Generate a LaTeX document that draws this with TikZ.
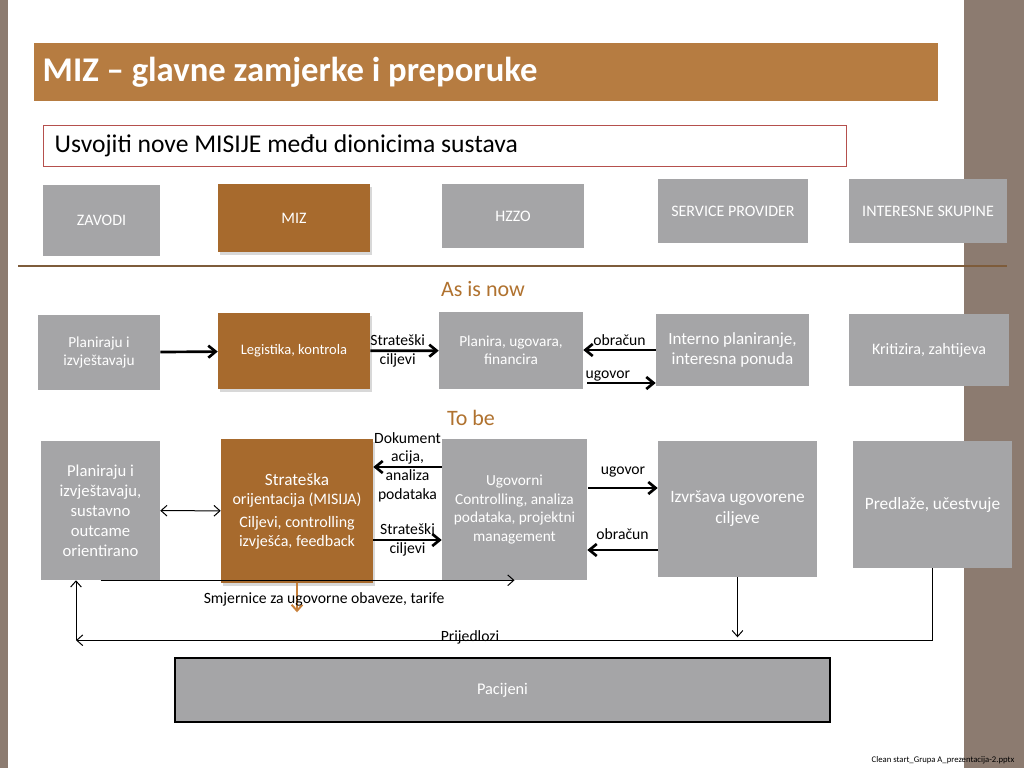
\documentclass[tikz,border=0pt]{standalone}
\usepackage{fontspec}
\setmainfont{Carlito}
\usetikzlibrary{positioning,calc,arrows.meta,shadows}
\definecolor{strip}{HTML}{8C7B70}
\definecolor{titlebar}{HTML}{B67C41}
\definecolor{boxgray}{HTML}{A5A5A7}
\definecolor{mizbrown}{HTML}{A76A2D}
\definecolor{headbrown}{HTML}{B0722F}
\definecolor{sepbrown}{HTML}{7E5C3B}
\definecolor{subred}{HTML}{B5504D}
\definecolor{arrbrown}{HTML}{C8803A}
\begin{document}
\begin{tikzpicture}[x=0.75pt,y=-0.75pt,
  >={Straight Barb[length=4.5pt,width=8pt]},
  box/.style 2 args={fill=boxgray,text=white,align=center,inner sep=2pt,
    minimum width=#1*0.75pt,minimum height=#2*0.75pt,font=\fontsize{11.5}{13.5}\selectfont},
  mizbox/.style 2 args={box={#1}{#2},fill=mizbrown,
    drop shadow={opacity=0.3,shadow xshift=1.5pt,shadow yshift=-2pt}},
  lbl/.style={font=\fontsize{11.75}{14}\selectfont,align=center,text=black,inner sep=1pt},
  head/.style={font=\fontsize{16.5}{19}\selectfont,text=headbrown},
  thk/.style={line width=2pt,-{Straight Barb[length=5.5pt,width=9pt]}},
  thn/.style={line width=0.75pt,->}]
\useasboundingbox (0,0) rectangle (1024,768);
\fill[white] (0,0) rectangle (1024,768);
\fill[strip] (0,0) rectangle (8,768);
\fill[strip] (964,0) rectangle (1024,768);

% title and mission
\fill[titlebar] (34,43) rectangle (938,101);
\node[anchor=west,text=white,font=\fontsize{26}{30}\bfseries] (title) at (38,72) {MIZ -- glavne zamjerke i preporuke};
\draw[subred,fill=white] (43,125) rectangle (846,166);
\node[anchor=west,font=\fontsize{19.2}{22}\selectfont] (mission) at (50,146) {Usvojiti nove MISIJE među dionicima sustava};

% actors
\node[box={117}{71},font=\fontsize{12}{14}\selectfont] (zavodi) at (101.5,220.5) {ZAVODI};
\node[mizbox={152}{68},font=\fontsize{12}{14}\selectfont] (miz) at (294,218) {MIZ};
\node[box={142}{64},font=\fontsize{12}{14}\selectfont] (hzzo) at (513,216) {HZZO};
\node[box={150}{64},font=\fontsize{12}{14}\selectfont] (provider) at (733,211) {SERVICE PROVIDER};
\node[box={158}{64},font=\fontsize{12}{14}\selectfont] (skupine) at (928,211) {INTERESNE SKUPINE};
\draw[sepbrown,line width=1.5pt] (18,266) -- (1007,266);

% as is now
\node[head] (asis) at (483,289) {As is now};
\node[box={122}{75}] (plan) at (99,352.5) {Planiraju i\\izvještavaju};
\node[mizbox={152}{76},font=\fontsize{10.9}{13}\selectfont] (legis) at (294,351) {Legistika, kontrola};
\node[box={144}{77}] (planira) at (511,350.5) {Planira, ugovara,\\financira};
\node[box={153}{72},font=\fontsize{12.8}{15}\selectfont] (interno) at (732.5,350) {Interno planiranje,\\interesna ponuda};
\node[box={160}{72},font=\fontsize{12}{14}\selectfont] (kritika) at (929,350) {Kritizira, zahtijeva};

\draw[thk] (plan) -- (legis);
\draw[thk] (legis) -- (planira) node[lbl,pos=0.4] {Strateški\\ciljevi};
\draw[thk] (interno.west) -- (interno.west -| planira.east) node[lbl,midway,above=1pt] {obračun};
\coordinate (u1) at ($(planira.east)+(4,32.5)$);
\draw[thk] (u1) -- (u1 -| interno.west) node[lbl,pos=0.3,above=-1pt] {ugovor};

% to be
\node[head] (tobe) at (471,418) {To be};
\node[box={119}{139},font=\fontsize{12.5}{15}\selectfont] (plan2) at (100.5,510.5) {Planiraju i\\izvještavaju,\\sustavno\\outcame\\orientirano};
\node[mizbox={152}{144},font=\fontsize{12}{14.25}\selectfont] (misija) at (297,511) {{\fontsize{12.9}{15}\selectfont Strateška}\\orijentacija (MISIJA)\\[3pt]Ciljevi, controlling\\izvješća, feedback};
\node[box={145}{141},font=\fontsize{11.5}{14}\selectfont] (ugovorni) at (514.5,509.5) {Ugovorni\\Controlling, analiza\\podataka, projektni\\management};
\node[box={159}{136},font=\fontsize{13}{15.75}\selectfont] (izvrsava) at (737.5,509) {Izvršava ugovorene\\ciljeve};
\node[box={159}{127},font=\fontsize{13}{15}\selectfont] (predlaze) at (932.5,504.5) {Predlaže, učestvuje};
\node[box={655}{64},draw=black,line width=1.5pt,font=\fontsize{12.25}{14}\selectfont] (pacijeni) at (502.5,690) {Pacijeni};

\draw[thn,<->] (plan2) -- (misija);
\coordinate (d1) at ($(ugovorni.west)+(0,-42.5)$);
\draw[thk] (d1) -- (d1 -| misija.east) node[lbl,midway] {Dokument\\acija,\\analiza\\podataka};
\coordinate (s1) at ($(misija.east)+(0,29)$);
\draw[thk] (s1) -- (s1 -| ugovorni.west) node[lbl,midway] {Strateški\\ciljevi};
\coordinate (u2) at ($(ugovorni.east)+(1,-21.5)$);
\draw[thk] (u2) -- (u2 -| izvrsava.west) node[lbl,midway,above=6pt] {ugovor};
\coordinate (o2) at ($(izvrsava.west)+(0,41)$);
\draw[thk] (o2) -- (o2 -| ugovorni.east) node[lbl,midway,above=6pt] {obračun};

% lower feedback lines
\draw[arrbrown,line width=1.5pt,->] (misija.south) -- ++(0,29);
\draw[thn] (plan2.south) -- (plan2.south -| ugovorni.south) node[lbl,pos=0.54,below=8pt] {Smjernice za ugovorne obaveze, tarife};
\draw[thn] (izvrsava.south) -- ++(0,60);
\coordinate (pr) at ($(plan2.south)+(-24.5,60)$);
\draw[thn] (predlaze.south) -- (predlaze.south |- pr) -- node[lbl,pos=0.54,above=-4pt] {Prijedlozi} (pr);
\draw[thn] (pr) -- (pr |- plan2.south);

\node[font=\fontsize{6.5}{7.5}\selectfont] (footer) at (943,760) {Clean start\_Grupa A\_prezentacija-2.pptx};
\end{tikzpicture}
\end{document}
